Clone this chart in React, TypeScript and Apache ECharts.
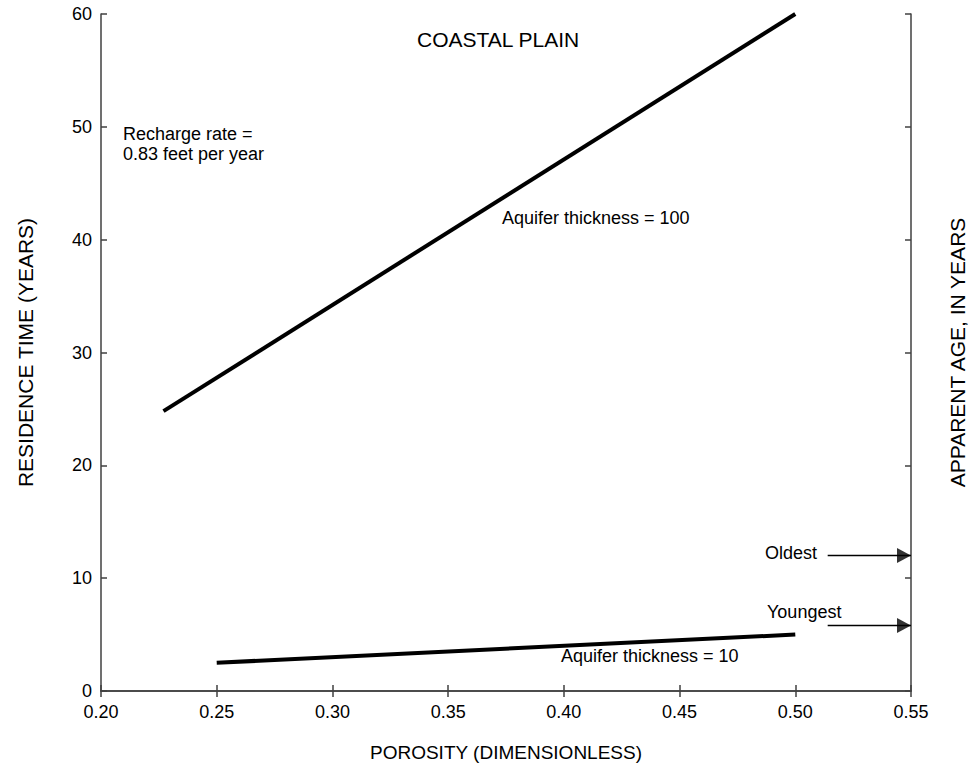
import React, { useEffect, useRef } from "react";
import * as echarts from "echarts";

const xTicks = { min: 0.2, max: 0.55, interval: 0.05 };
const yTicks = { min: 0, max: 60, interval: 10 };

const thick100: [number, number][] = [
  [0.227, 24.8],
  [0.5, 60.0],
];
const thick10: [number, number][] = [
  [0.25, 2.5],
  [0.5, 5.0],
];
const oldestArrow: [number, number][] = [
  [0.514, 12.0],
  [0.55, 12.0],
];
const youngestArrow: [number, number][] = [
  [0.514, 5.8],
  [0.55, 5.8],
];

const FONT = "'Liberation Sans', Arial, Helvetica, sans-serif";
const AXIS_COLOR = "#404040";

export default function App() {
  const ref = useRef<HTMLDivElement>(null);
  useEffect(() => {
    document.body.style.margin = "0";
    const chart = echarts.init(ref.current!, null, { renderer: "svg" });
    const axisLine = { show: true, lineStyle: { color: AXIS_COLOR, width: 1.5 } };
    const tick = { show: true, inside: true, length: 6, lineStyle: { color: AXIS_COLOR, width: 1.5 } };
    const text = (left: number, top: number, t: string, size = 18) => ({
      type: "text",
      left,
      top,
      style: { text: t, font: `${size}px ${FONT}`, fill: "#000" },
    });
    const arrowHead = "path://M0,0L14,7.5L0,15Z";
    chart.setOption({
      animation: false,
      backgroundColor: "#fff",
      textStyle: { fontFamily: FONT },
      grid: { left: 101, top: 14, right: 62, bottom: 79, containLabel: false },
      xAxis: [
        {
          type: "value",
          min: xTicks.min,
          max: xTicks.max,
          interval: xTicks.interval,
          position: "bottom",
          axisLine,
          axisTick: tick,
          splitLine: { show: false },
          axisLabel: {
            color: "#000",
            fontSize: 18,
            fontFamily: FONT,
            margin: 12,
            formatter: (v: number) => v.toFixed(2),
          },
          name: "POROSITY (DIMENSIONLESS)",
          nameLocation: "middle",
          nameGap: 52,
          nameTextStyle: { color: "#000", fontSize: 19, fontFamily: FONT },
        },
        {
          type: "value",
          min: xTicks.min,
          max: xTicks.max,
          interval: xTicks.interval,
          position: "top",
          axisLine,
          axisTick: tick,
          splitLine: { show: false },
          axisLabel: { show: false },
        },
      ],
      yAxis: [
        {
          type: "value",
          min: yTicks.min,
          max: yTicks.max,
          interval: yTicks.interval,
          position: "left",
          axisLine,
          axisTick: tick,
          splitLine: { show: false },
          axisLabel: { color: "#000", fontSize: 18, fontFamily: FONT, margin: 9 },
          name: "RESIDENCE TIME (YEARS)",
          nameLocation: "middle",
          nameGap: 65,
          nameRotate: 90,
          nameTextStyle: { color: "#000", fontSize: 21, fontFamily: FONT },
        },
        {
          type: "value",
          min: yTicks.min,
          max: yTicks.max,
          interval: yTicks.interval,
          position: "right",
          axisLine,
          axisTick: tick,
          splitLine: { show: false },
          axisLabel: { show: false },
          name: "APPARENT AGE, IN YEARS",
          nameLocation: "middle",
          nameGap: 36,
          nameRotate: 90,
          nameTextStyle: { color: "#000", fontSize: 21, fontFamily: FONT },
        },
      ],
      series: [
        {
          type: "line",
          data: thick100,
          showSymbol: false,
          symbol: "none",
          lineStyle: { color: "#000", width: 4 },
          silent: true,
        },
        {
          type: "line",
          data: thick10,
          showSymbol: false,
          symbol: "none",
          lineStyle: { color: "#000", width: 4 },
          silent: true,
        },
        {
          type: "line",
          data: oldestArrow,
          symbol: "none",
          lineStyle: { color: "#000", width: 1.5 },
          silent: true,
        },
        {
          type: "line",
          data: youngestArrow,
          symbol: "none",
          lineStyle: { color: "#000", width: 1.5 },
          silent: true,
        },
        {
          type: "scatter",
          data: [oldestArrow[1], youngestArrow[1]],
          symbol: arrowHead,
          symbolSize: [14, 15],
          symbolOffset: [-7, 0],
          itemStyle: { color: "#000" },
          silent: true,
        },
      ],
      graphic: [
        text(417, 29, "COASTAL PLAIN", 21),
        text(123, 125, "Recharge rate ="),
        text(123, 145, "0.83 feet per year"),
        text(502, 209, "Aquifer thickness = 100"),
        text(561, 647, "Aquifer thickness = 10"),
        text(765, 544, "Oldest"),
        text(767, 603, "Youngest"),
      ],
    });
    return () => chart.dispose();
  }, []);
  return <div ref={ref} style={{ width: 976, height: 770 }} />;
}
